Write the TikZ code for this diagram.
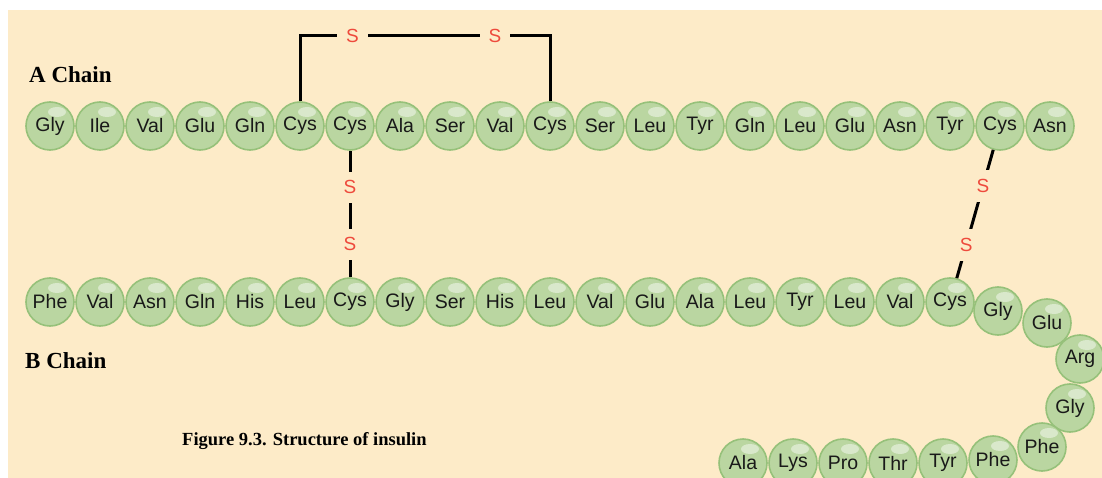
\documentclass[tikz,border=0pt]{standalone}
\usepackage{fontspec}
\setmainfont{Liberation Serif}
\newfontfamily\residuefont{Liberation Sans}
\usepackage{tikz}
\usepackage{xcolor}
\definecolor{paper}{HTML}{FDEBC8}
\definecolor{ballfill}{HTML}{BAD6A1}
\definecolor{ballrim}{HTML}{96C17A}
\definecolor{sred}{HTML}{EE4A3C}

\begin{document}
\begin{tikzpicture}[x=1pt, y=-1pt,
    ball/.style={circle, draw=ballrim, line width=1.6pt, fill=ballfill, minimum size=48pt, inner sep=0pt,
        font=\residuefont\fontsize{19.5}{19.5}\selectfont, text=black!90,
        path picture={\fill[white, opacity=.45] ([xshift=7pt,yshift=14pt]path picture bounding box.center) ellipse (9pt and 5pt);}},
    sulfur/.style={fill=paper, inner sep=9pt, text=sred, font=\residuefont\fontsize{19}{19}\selectfont},
    bond/.style={line width=3pt, black},
    chainlabel/.style={anchor=base west, inner sep=0pt, font=\fontsize{23}{23}\selectfont\bfseries}
]
\useasboundingbox (0,0) rectangle (1102,478);
\fill[paper] (8,10) rectangle (1102,478);

% A chain
\node[chainlabel] (alabel) at (29,83) {A Chain};
\node[ball] (a1) at (50,126) {Gly};
\node[ball] (a2) at (100,126) {Ile};
\node[ball] (a3) at (150,126) {Val};
\node[ball] (a4) at (200,126) {Glu};
\node[ball] (a5) at (250,126) {Gln};
\node[ball] (a6) at (300,126) {Cys};
\node[ball] (a7) at (350,126) {Cys};
\node[ball] (a8) at (400,126) {Ala};
\node[ball] (a9) at (450,126) {Ser};
\node[ball] (a10) at (500,126) {Val};
\node[ball] (a11) at (550,126) {Cys};
\node[ball] (a12) at (600,126) {Ser};
\node[ball] (a13) at (650,126) {Leu};
\node[ball] (a14) at (700,126) {Tyr};
\node[ball] (a15) at (750,126) {Gln};
\node[ball] (a16) at (800,126) {Leu};
\node[ball] (a17) at (850,126) {Glu};
\node[ball] (a18) at (900,126) {Asn};
\node[ball] (a19) at (950,126) {Tyr};
\node[ball] (a20) at (1000,126) {Cys};
\node[ball] (a21) at (1050,126) {Asn};

% B chain, straight part
\node[chainlabel] (blabel) at (25,368) {B Chain};
\node[ball] (b1) at (50,302) {Phe};
\node[ball] (b2) at (100,302) {Val};
\node[ball] (b3) at (150,302) {Asn};
\node[ball] (b4) at (200,302) {Gln};
\node[ball] (b5) at (250,302) {His};
\node[ball] (b6) at (300,302) {Leu};
\node[ball] (b7) at (350,302) {Cys};
\node[ball] (b8) at (400,302) {Gly};
\node[ball] (b9) at (450,302) {Ser};
\node[ball] (b10) at (500,302) {His};
\node[ball] (b11) at (550,302) {Leu};
\node[ball] (b12) at (600,302) {Val};
\node[ball] (b13) at (650,302) {Glu};
\node[ball] (b14) at (700,302) {Ala};
\node[ball] (b15) at (750,302) {Leu};
\node[ball] (b16) at (800,302) {Tyr};
\node[ball] (b17) at (850,302) {Leu};
\node[ball] (b18) at (900,302) {Val};
\node[ball] (b19) at (950,302) {Cys};

% B chain, turn and bottom row
\node[ball] (b20) at (998,311) {Gly};
\node[ball] (b21) at (1047,323) {Glu};
\node[ball] (b22) at (1080,359) {Arg};
\node[ball] (b23) at (1070,408) {Gly};
\node[ball] (b24) at (1042,447) {Phe};
\node[ball] (b25) at (993,460) {Phe};
\node[ball] (b26) at (943,463) {Tyr};
\node[ball] (b27) at (893,463) {Thr};
\node[ball] (b28) at (843,463) {Pro};
\node[ball] (b29) at (793,463) {Lys};
\node[ball] (b30) at (743,463) {Ala};

% Disulfide bridges
\coordinate (ssleft) at (300,36);
\coordinate (ssright) at (550,36);
\draw[bond] (a6.north) -- (ssleft) -- node[sulfur, pos=.21] (s1) {S} node[sulfur, pos=.78] (s2) {S} (ssright) -- (a11.north);
\draw[bond] (a7) -- node[sulfur, pos=.29] (s3) {S} node[sulfur, pos=.74] (s4) {S} (b7);
\draw[bond] (a20) -- node[sulfur, pos=.28] (s5) {S} node[sulfur, pos=.74] (s6) {S} (b19);

% Caption
\node[anchor=base west, inner sep=0pt, font=\fontsize{18.5}{18.5}\selectfont\bfseries] (caption) at (182,445)
    {Figure 9.3. Structure of insulin};

\end{tikzpicture}
\end{document}
